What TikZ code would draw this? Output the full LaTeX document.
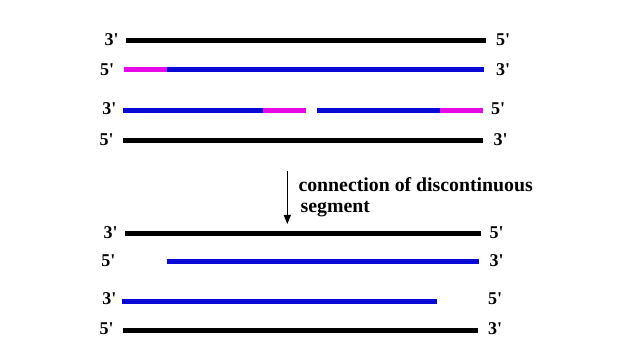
\documentclass[tikz,border=0pt]{standalone}
\usepackage{fontspec}
\usetikzlibrary{arrows.meta}
\setmainfont{Liberation Serif}
\newfontfamily\plainserif{Liberation Serif}
\definecolor{strandblue}{RGB}{10,10,215}
\definecolor{strandmag}{RGB}{230,10,230}
\begin{document}
\begin{tikzpicture}[x=1pt,y=-1pt,
  strand/.style={line width=5pt},
  blk/.style={strand,black},
  blu/.style={strand,strandblue},
  mag/.style={strand,strandmag},
  lbl/.style={font=\plainserif\bfseries\fontsize{18}{20}\selectfont,inner sep=0pt},
  txt/.style={font=\bfseries\fontsize{19.8}{22}\selectfont,inner sep=0pt,anchor=west}]
\useasboundingbox (0,0) rectangle (626,355);
% line 1
\coordinate (a1) at (126,40.7); \coordinate (a2) at (485.5,40.7);
\draw[blk] (a1) -- (a2);
\node[lbl] (l1l) at (111.5,40) {3'};
\node[lbl] (l1r) at (503,40) {5'};
% line 2
\coordinate (b1) at (124.3,70); \coordinate (b2) at (167.3,70); \coordinate (b3) at (484.3,70);
\draw[mag] (b1) -- (b2);
\draw[blu] (b2) -- (b3);
\node[lbl] (l2l) at (107,70) {5'};
\node[lbl] (l2r) at (503,70) {3'};
% line 3
\coordinate (c1) at (122.7,110.3); \coordinate (c2) at (263.3,110.3); \coordinate (c3) at (306,110.3);
\coordinate (c4) at (316.7,110.3); \coordinate (c5) at (440,110.3); \coordinate (c6) at (483.3,110.3);
\draw[blu] (c1) -- (c2);
\draw[mag] (c2) -- (c3);
\draw[blu] (c4) -- (c5);
\draw[mag] (c5) -- (c6);
\node[lbl] (l3l) at (109.3,108.5) {3'};
\node[lbl] (l3r) at (498,108.5) {5'};
% line 4
\coordinate (d1) at (123.3,141); \coordinate (d2) at (483.3,141);
\draw[blk] (d1) -- (d2);
\node[lbl] (l4l) at (106.7,140) {5'};
\node[lbl] (l4r) at (500.7,140) {3'};
% arrow and text
\coordinate (ar1) at (287.3,171); \coordinate (ar2) at (287.3,224);
\draw[-{Stealth[length=9pt,width=7pt,inset=0pt]},line width=1.2pt] (ar1) -- (ar2);
\node[txt] (t1) at (298.3,185) {connection of discontinuous};
\node[txt] (t2) at (300.5,209) {segment};
% line 5
\coordinate (e1) at (125.3,233.3); \coordinate (e2) at (480.7,233.3);
\draw[blk] (e1) -- (e2);
\node[lbl] (l5l) at (110.7,233) {3'};
\node[lbl] (l5r) at (496.7,233) {5'};
% line 6
\coordinate (f1) at (166.7,261.7); \coordinate (f2) at (479,261.7);
\draw[blu] (f1) -- (f2);
\node[lbl] (l6l) at (108.3,261) {5'};
\node[lbl] (l6r) at (496.7,261) {3'};
% line 7
\coordinate (g1) at (122.3,301); \coordinate (g2) at (436.7,301);
\draw[blu] (g1) -- (g2);
\node[lbl] (l7l) at (109.3,299) {3'};
\node[lbl] (l7r) at (495,299) {5'};
% line 8
\coordinate (h1) at (123.3,330); \coordinate (h2) at (478.3,330);
\draw[blk] (h1) -- (h2);
\node[lbl] (l8l) at (106.7,329) {5'};
\node[lbl] (l8r) at (495,329) {3'};
\end{tikzpicture}
\end{document}
